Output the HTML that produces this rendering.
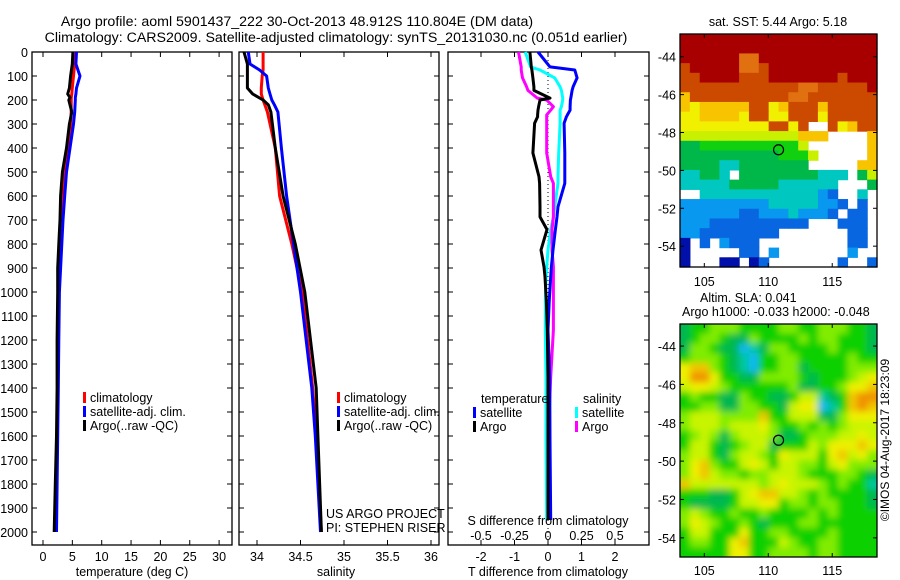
<!DOCTYPE html>
<html><head><meta charset="utf-8"><style>
body{margin:0;background:#fff}
svg{display:block;font-family:"Liberation Sans",sans-serif}
</style></head><body>
<svg id="fig" width="900" height="580" viewBox="0 0 900 580" xmlns="http://www.w3.org/2000/svg">
<defs>
<filter id="smooth" x="0" y="0" width="1" height="1"><feGaussianBlur stdDeviation="3.5"/></filter>
<clipPath id="clip2"><rect x="680" y="324" width="197" height="233"/></clipPath>
</defs>
<rect width="900" height="580" fill="#fff"/>
<text x="297" y="26" font-size="14.2" text-anchor="middle">Argo profile: aoml 5901437_222 30-Oct-2013 48.912S 110.804E (DM data)</text>
<text x="336" y="42" font-size="14.2" text-anchor="middle">Climatology: CARS2009. Satellite-adjusted climatology: synTS_20131030.nc (0.051d earlier)</text>
<g id="p1"></g>
<g id="p2"></g>
<g id="p3"></g>
<g id="m1"></g>
<g id="m2"></g>
<text x="778" y="26" font-size="12.5" text-anchor="middle">sat. SST: 5.44  Argo: 5.18</text>
<text x="700" y="302" font-size="12.5">Altim. SLA: 0.041</text>
<text x="682" y="316" font-size="12.5">Argo h1000: -0.033 h2000: -0.048</text>
<text transform="translate(889,440) rotate(-90)" font-size="12" text-anchor="middle">©IMOS 04-Aug-2017 18:23:09</text>
<text x="326" y="518" font-size="12.5">US ARGO PROJECT</text>
<text x="326" y="532" font-size="12.5">PI: STEPHEN RISER</text>
</svg>
<script>
// ---- data ----
const tempDepth = [0,50,100,150,175,190,200,250,300,400,500,600,700,800,900,1000,1200,1400,1600,1800,2000];
const tempArgo  = [5.1,5.0,4.7,4.5,4.2,4.6,4.4,4.9,4.5,4.0,3.3,3.0,2.9,2.7,2.5,2.5,2.4,2.4,2.3,2.1,1.9];
const tempClim  = [5.6,5.4,5.2,5.0,4.9,4.8,4.8,4.8,4.7,4.2,3.6,3.3,3.0,2.9,2.8,2.7,2.6,2.5,2.4,2.2,2.1];
const tempSat   = [5.7,5.6,6.3,5.7,5.6,5.5,5.5,5.4,5.2,4.6,4.0,3.7,3.4,3.2,3.0,2.8,2.7,2.6,2.5,2.4,2.3];
const salDepth = [0,50,75,100,150,175,200,220,250,400,600,800,1000,1400,1600,2000];
const salArgo  = [33.85,33.89,33.89,33.89,33.89,33.95,34.07,34.13,34.16,34.21,34.30,34.44,34.55,34.68,34.70,34.74];
const salClim  = [34.07,34.07,34.07,34.06,34.05,34.05,34.07,34.09,34.12,34.21,34.26,34.40,34.52,34.64,34.68,34.74];
const salSat   = [33.90,33.92,34.03,34.11,34.13,34.15,34.17,34.20,34.24,34.28,34.34,34.42,34.50,34.63,34.67,34.73];
const dDepth = [0,62,75,108,145,160,192,200,228,242,262,270,297,421,520,547,645,687,740,825,895,937,1033,1158,1354,1617,1950];
const dTArgo = [-0.54,-0.50,-0.48,-0.45,-0.42,-0.42,0.06,-0.24,-0.28,-0.30,-0.31,-0.31,-0.40,-0.45,-0.27,-0.25,-0.24,-0.24,-0.03,-0.21,-0.12,-0.09,-0.05,-0.02,0.0,0.0,0.0];
const dTSat  = [-0.30,0.06,0.80,0.87,0.75,0.72,0.68,0.67,0.66,0.66,0.58,0.55,0.48,0.50,0.50,0.50,0.30,0.27,0.22,0.15,0.10,0.08,0.04,0.00,0.05,0.06,0.08];
const dSArgo = [-0.22,-0.20,-0.20,-0.19,-0.16,-0.15,-0.08,-0.01,0.04,0.02,-0.01,-0.01,-0.01,-0.01,0.02,0.04,0.04,0.04,0.03,0.03,0.04,0.04,0.04,0.04,0.02,0.0,0.0];
const dSSat  = [-0.17,-0.13,-0.06,0.05,0.09,0.10,0.11,0.11,0.10,0.09,0.09,0.09,0.09,0.08,0.075,0.075,0.05,0.04,0.02,0.0,-0.01,-0.015,-0.02,-0.02,-0.015,-0.015,-0.01];
const depthTicks = [0,100,200,300,400,500,600,700,800,900,1000,1100,1200,1300,1400,1500,1600,1700,1800,1900,2000];
const tempTicks = [0,5,10,15,20,25,30];
const salTicks = [34,34.5,35,35.5,36];
const tdTicks = [-2,-1,0,1,2];
const sdTicks = [-0.5,-0.25,0,0.25,0.5];
const latTicks = [-44,-46,-48,-50,-52,-54];
const lonTicks = [105,110,115];
const argoLon = 110.804, argoLat = -48.912;
const sstRows = [
"bbbbbbbbbbbbbbbbbbbb","bbbbbbbbbbbbbbbbbbbb","bbbbbb99bbbbbbbbbbbb","abbbbb99abbbbbbbbbbb",
"aabbbbaaabbbbbbbabbb","aaaaaaaaaaaa99aaaaab","8aaaaaaaaaa99aaaaaaa","8788888aa78aaa8aaaaa",
"7788887aa77aaa7aaaaa","777777777aa7a..a78aa","666666666666888....8","4455555555556......8",
"44444444445556.....8","4444334444444.....88","33443.44444444333.46","3333344444333333...4",
"..33333333333321..3.","22222222233333221.1.","2222221122232221.11.","2221111111111...111.",
"2211111111.......11.","0.1.2111.........11.","0.....11.2.......2..","0...00.01.......1..1"];
const slaRows = [
"23344433334433444332","23443224333343443332","24432201244333343332","34443210334433333433",
"67743210334423333444","68863322444432333456","56654333333422334667","34332243322355123788",
"33442244332566013787","45554444733555224666","45554555643343434555","34542455542234445565",
"35532345523335466676","45532455436555367564","46743356535544356444","46754434455543334432",
"75555555456555434331","33322356775543433332","32222355663443443332","45433433433334343333",
"46543343233344333333","35533363344333343333","34433673335433443333","33333663344443443333"];
const sstColors = {"0":"#0010a8","1":"#0866e0","2":"#0898f0","3":"#00c8c0","4":"#00b84a","5":"#10d010","6":"#c8f000","7":"#f0f000","8":"#f8c400","9":"#e07010","a":"#cc4a00","b":"#a80000"};
const slaColors = {"0":"#10b8f0","1":"#00c8a0","2":"#00b850","3":"#10d000","4":"#80ec00","5":"#c8f400","6":"#eef000","7":"#f0c400","8":"#f09000"};

// ---- helpers ----
const NS="http://www.w3.org/2000/svg";
function mk(parent,tag,attrs){const e=document.createElementNS(NS,tag);for(const k in attrs)e.setAttribute(k,attrs[k]);parent.appendChild(e);return e;}
const Y0=52, PY=0.24;
const yD = d => Y0 + d*PY;
const BOT=545;

function frame(g,x0,x1,top){
  const r=mk(g,'rect',{x:x0,y:top,width:x1-x0,height:BOT-top,fill:'none',stroke:'#000','stroke-width':1.3});
  
  
}
function profile(g,depths,vals,xf,color,name){
  const pts=depths.map((d,i)=>xf(vals[i]).toFixed(1)+','+yD(d).toFixed(1)).join(' ');
  const p=mk(g,'polyline',{points:pts,fill:'none',stroke:color,'stroke-width':3,'stroke-linejoin':'round'});
  
  
}
function legend(g,x,y,color,label,name){
  const r=mk(g,'rect',{x:x,y:y-10,width:3,height:11,fill:color});
  
  
  const t=mk(g,'text',{x:x+7,y:y,'font-size':12.5});t.textContent=label;
  
  
}
function xticks(g,ticks,xf,top,labelY,size){
  ticks.forEach(v=>{
    const x=xf(v);
    mk(g,'line',{x1:x,x2:x,y1:BOT,y2:BOT-5,stroke:'#000'});
    mk(g,'line',{x1:x,x2:x,y1:top,y2:top+5,stroke:'#000'});
    const t=mk(g,'text',{x:x,y:labelY,'font-size':size||12.5,'text-anchor':'middle'});t.textContent=v;
    
    
  });
}
function yticks(g,x0,x1){
  depthTicks.forEach(d=>{const y=yD(d);
    mk(g,'line',{x1:x0,x2:x0+5,y1:y,y2:y,stroke:'#000'});
    mk(g,'line',{x1:x1,x2:x1-5,y1:y,y2:y,stroke:'#000'});});
}

// ---- panel 1 temperature ----
const g1=document.getElementById('p1');
const xT=v=>43+v*5.87;
frame(g1,32,232,52); yticks(g1,32,232); xticks(g1,tempTicks,xT,52,561);
depthTicks.forEach(d=>{const t=mk(g1,'text',{x:28,y:yD(d)+5,'font-size':12.5,'text-anchor':'end'});t.textContent=d;
  
  });
profile(g1,tempDepth,tempClim,xT,'#f00','temp-climatology-line');
profile(g1,tempDepth,tempSat,xT,'#00f','temp-satellite-line');
profile(g1,tempDepth,tempArgo,xT,'#000','temp-argo-line');
legend(g1,83,402,'#f00','climatology','legend-climatology');
legend(g1,83,416,'#00f','satellite-adj. clim.','legend-satellite');
legend(g1,83,430,'#000','Argo(..raw -QC)','legend-argo');
{const t=mk(g1,'text',{x:132,y:576,'font-size':12.5,'text-anchor':'middle'});t.textContent='temperature (deg C)';

}

// ---- panel 2 salinity ----
const g2=document.getElementById('p2');
const xS=v=>257+(v-34)*87;
frame(g2,239,439,52); yticks(g2,239,439); xticks(g2,salTicks,xS,52,561);
profile(g2,salDepth,salClim,xS,'#f00','sal-climatology-line');
profile(g2,salDepth,salSat,xS,'#00f','sal-satellite-line');
profile(g2,salDepth,salArgo,xS,'#000','sal-argo-line');
legend(g2,337,402,'#f00','climatology','legend-climatology');
legend(g2,337,416,'#00f','satellite-adj. clim.','legend-satellite');
legend(g2,337,430,'#000','Argo(..raw -QC)','legend-argo');
{const t=mk(g2,'text',{x:336,y:576,'font-size':12.5,'text-anchor':'middle'});t.textContent='salinity';

}

// ---- panel 3 differences ----
const g3=document.getElementById('p3');
const xdT=v=>548+v*33.5, xdS=v=>548+v*134;
frame(g3,448,649,52); yticks(g3,448,649); xticks(g3,tdTicks,xdT,52,561);
mk(g3,'line',{x1:548,x2:548,y1:52,y2:545,stroke:'#000','stroke-dasharray':'1,3'});
sdTicks.forEach(v=>{const t=mk(g3,'text',{x:xdS(v),y:540,'font-size':12.5,'text-anchor':'middle'});t.textContent=String(v);
  
  });
profile(g3,dDepth,dSSat,xdS,'#0ff','s-diff-satellite-line');
profile(g3,dDepth,dSArgo,xdS,'#f0f','s-diff-argo-line');
profile(g3,dDepth,dTSat,xdT,'#00f','t-diff-satellite-line');
profile(g3,dDepth,dTArgo,xdT,'#000','t-diff-argo-line');
{const t=mk(g3,'text',{x:548,y:525,'font-size':12.5,'text-anchor':'middle'});t.textContent='S difference from climatology';

}
{const t=mk(g3,'text',{x:548,y:576,'font-size':12.5,'text-anchor':'middle'});t.textContent='T difference from climatology';

}
{const t=mk(g3,'text',{x:481,y:403,'font-size':12.5});t.textContent='temperature';

}
{const t=mk(g3,'text',{x:583,y:403,'font-size':12.5});t.textContent='salinity';

}
legend(g3,473,417,'#00f','satellite','legend-t-satellite');
legend(g3,473,431,'#000','Argo','legend-t-argo');
legend(g3,575,417,'#0ff','satellite','legend-s-satellite');
legend(g3,575,431,'#f0f','Argo','legend-s-argo');

// ---- maps ----
function map(g,rows,colors,top,bot,latTop,latBot,lonL,lonR,lonLabelY,prefix,smooth){
  const L=680,R=877;
  const lx=v=>L+(v-lonL)/(lonR-lonL)*(R-L);
  const ly=v=>top+(latTop-v)/(latTop-latBot)*(bot-top);
  const nr=rows.length,nc=rows[0].length,cw=(R-L)/nc,ch=(bot-top)/nr;
  let cg=g;
  if(smooth){
    const outer=mk(g,'g',{'clip-path':'url(#clip2)'});
    
    
    cg=mk(outer,'g',{filter:'url(#smooth)'});
    mk(cg,'rect',{x:L-12,y:top-12,width:R-L+24,height:bot-top+24,fill:colors["3"]});
  }
  rows.forEach((row,i)=>{[...row].forEach((c,j)=>{
    if(c==='.')return;
    let x=L+j*cw,y=top+i*ch,w=cw+0.6,h=ch+0.6;
    if(smooth){ if(j===0){x-=12;w+=12;} if(j===nc-1){w+=12;} if(i===0){y-=12;h+=12;} if(i===nr-1){h+=12;} }
    const r=mk(cg,'rect',{x:x.toFixed(2),y:y.toFixed(2),width:w.toFixed(2),height:h.toFixed(2),fill:colors[c]});
    
    
  });});
  const f=mk(g,'rect',{x:L,y:top,width:R-L,height:bot-top,fill:'none',stroke:'#000','stroke-width':1.3});
  
  
  latTicks.forEach(v=>{const y=ly(v);
    mk(g,'line',{x1:L,x2:L+4,y1:y,y2:y,stroke:'#000'});mk(g,'line',{x1:R,x2:R-4,y1:y,y2:y,stroke:'#000'});
    const t=mk(g,'text',{x:676,y:y+5,'font-size':12.5,'text-anchor':'end'});t.textContent=v;
    
    });
  lonTicks.forEach(v=>{const x=lx(v);
    mk(g,'line',{x1:x,x2:x,y1:bot,y2:bot-4,stroke:'#000'});mk(g,'line',{x1:x,x2:x,y1:top,y2:top+4,stroke:'#000'});
    const t=mk(g,'text',{x:x,y:lonLabelY,'font-size':12.5,'text-anchor':'middle'});t.textContent=v;
    
    });
  const c=mk(g,'circle',{cx:lx(argoLon),cy:ly(argoLat),r:5,fill:'none',stroke:'#000','stroke-width':1.2});
  
  
}
map(document.getElementById('m1'),sstRows,sstColors,34,267,-42.8,-55.1,103.1,118.5,286,'sst-map',false);
map(document.getElementById('m2'),slaRows,slaColors,324,557,-42.85,-55.0,103.1,118.5,575,'sla-map',true);
</script>
</body></html>
